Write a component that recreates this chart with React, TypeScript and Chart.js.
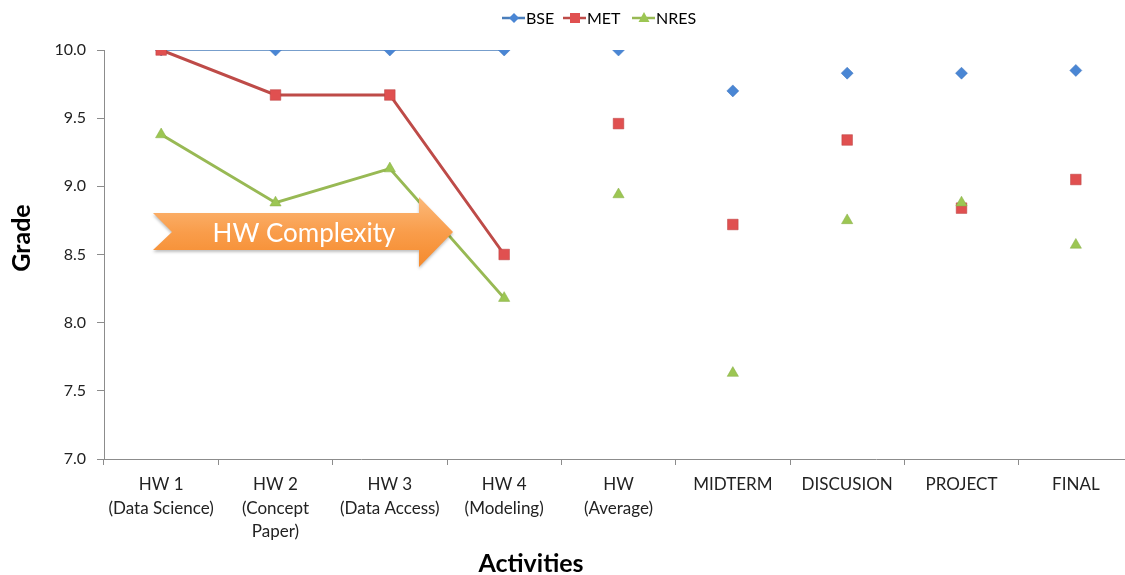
import React, { useEffect, useRef } from "react";
import { Chart, registerables } from "chart.js";

Chart.register(...registerables);

const categories: string[][] = [
  ["HW 1", "(Data Science)"],
  ["HW 2", "(Concept", "Paper)"],
  ["HW 3", "(Data Access)"],
  ["HW 4", "(Modeling)"],
  ["HW", "(Average)"],
  ["MIDTERM"],
  ["DISCUSION"],
  ["PROJECT"],
  ["FINAL"],
];

const bseValues = [10.0, 10.0, 10.0, 10.0, 10.0, 9.7, 9.83, 9.83, 9.85];
const metValues = [10.0, 9.67, 9.67, 8.5, 9.46, 8.72, 9.34, 8.84, 9.05];
const nresValues = [9.38, 8.88, 9.13, 8.18, 8.94, 7.63, 8.75, 8.88, 8.57];

const seriesNames = ["BSE", "MET", "NRES"];
const yTicks = [7.0, 7.5, 8.0, 8.5, 9.0, 9.5, 10.0];
const arrowLabel = "HW Complexity";
const xTitle = "Activities";
const yTitle = "Grade";

const FONT = "Lato, 'Open Sans', sans-serif";

const overlayPlugin = {
  id: "overlay",
  afterDatasetsDraw(chart: any) {
    const ctx = chart.ctx as CanvasRenderingContext2D;
    ctx.save();
    const pts: [number, number][] = [
      [153, 213], [419, 213], [419, 197], [453, 232], [419, 267], [419, 250], [153, 250], [172, 232],
    ];
    ctx.shadowColor = "rgba(0,0,0,0.25)";
    ctx.shadowBlur = 3;
    ctx.shadowOffsetY = 2;
    const g = ctx.createLinearGradient(0, 197, 0, 267);
    g.addColorStop(0, "#fcb97a");
    g.addColorStop(0.5, "#f99d4b");
    g.addColorStop(1, "#f58a2c");
    ctx.fillStyle = g;
    ctx.beginPath();
    pts.forEach(([x, y], i) => (i === 0 ? ctx.moveTo(x, y) : ctx.lineTo(x, y)));
    ctx.closePath();
    ctx.fill();
    ctx.restore();
    ctx.save();
    ctx.fillStyle = "#ffffff";
    let size = 24;
    ctx.font = `${size}px ${FONT}`;
    const w = ctx.measureText(arrowLabel).width;
    size = size * (183 / w);
    ctx.font = `${size}px ${FONT}`;
    ctx.textAlign = "center";
    ctx.textBaseline = "middle";
    ctx.fillText(arrowLabel, 304, 234);
    ctx.restore();
  },
  afterDraw(chart: any) {
    const ctx = chart.ctx as CanvasRenderingContext2D;
    ctx.save();
    ctx.fillStyle = "#000";
    ctx.font = `bold 25px ${FONT}`;
    ctx.textAlign = "center";
    ctx.textBaseline = "middle";
    ctx.fillText(xTitle, 531, 564);
    ctx.save();
    ctx.translate(22, 238);
    ctx.rotate(-Math.PI / 2);
    ctx.fillText(yTitle, 0, 0);
    ctx.restore();
    const starts = [502, 563, 632];
    ctx.font = `16px ${FONT}`;
    ctx.textAlign = "left";
    chart.data.datasets.forEach((ds: any, i: number) => {
      const x0 = starts[i];
      const y = 18;
      ctx.strokeStyle = ds.borderColor;
      ctx.lineWidth = 2.5;
      ctx.beginPath();
      ctx.moveTo(x0, y);
      ctx.lineTo(x0 + 23, y);
      ctx.stroke();
      ctx.fillStyle = ds.pointBackgroundColor;
      const cx = x0 + 12;
      ctx.beginPath();
      if (ds.pointStyle === "rectRot") {
        ctx.moveTo(cx - 5, y); ctx.lineTo(cx, y - 5); ctx.lineTo(cx + 5, y); ctx.lineTo(cx, y + 5);
      } else if (ds.pointStyle === "rect") {
        ctx.rect(cx - 5, y - 5, 10, 10);
      } else {
        ctx.moveTo(cx, y - 6); ctx.lineTo(cx + 5.5, y + 4); ctx.lineTo(cx - 5.5, y + 4);
      }
      ctx.closePath();
      ctx.fill();
      ctx.fillStyle = "#000";
      ctx.fillText(ds.label, x0 + 24, y + 1);
    });
    ctx.restore();
  },
};

export default function App() {
  const ref = useRef<HTMLCanvasElement | null>(null);
  useEffect(() => {
    if (!ref.current) return;
    const segColor = (color: string) => (c: any) => (c.p0DataIndex >= 3 ? "transparent" : color);
    const chart = new Chart(ref.current, {
      type: "line",
      data: {
        labels: categories,
        datasets: [
          {
            label: seriesNames[0],
            data: bseValues,
            borderColor: "#4a7ebb",
            borderWidth: 1.5,
            pointStyle: "rectRot",
            pointRadius: 6,
            pointBackgroundColor: "#4a86d4",
            pointBorderColor: "#3f75bd",
            pointBorderWidth: 0.5,
            segment: { borderColor: segColor("#4a7ebb") },
            order: 3,
          },
          {
            label: seriesNames[1],
            data: metValues,
            borderColor: "#be4b48",
            borderWidth: 3,
            pointStyle: "rect",
            pointRadius: 7.5,
            pointBackgroundColor: "#e05050",
            pointBorderColor: "#b94040",
            pointBorderWidth: 0.5,
            segment: { borderColor: segColor("#be4b48") },
            order: 2,
          },
          {
            label: seriesNames[2],
            data: nresValues,
            borderColor: "#98b954",
            borderWidth: 3,
            pointStyle: "triangle",
            pointRadius: 6.5,
            pointBackgroundColor: "#9cc653",
            pointBorderColor: "#86ad45",
            pointBorderWidth: 0.5,
            segment: { borderColor: segColor("#98b954") },
            order: 1,
          },
        ] as any,
      },
      options: {
        animation: false,
        responsive: false,
        devicePixelRatio: 1,
        layout: { autoPadding: false, padding: { top: 50, left: 0, right: 1, bottom: 0 } },
        plugins: { legend: { display: false }, tooltip: { enabled: false } },
        scales: {
          x: {
            type: "category",
            offset: true,
            grid: { offset: true, drawOnChartArea: false, drawTicks: true, tickLength: 6, color: "#8c8c8c" },
            border: { color: "#8c8c8c", width: 1 },
            ticks: {
              color: "#222",
              font: { family: FONT, size: 17, lineHeight: 1.38 },
              padding: 8,
              maxRotation: 0,
              autoSkip: false,
            },
            afterFit: (s: any) => { s.height = 116; s.paddingLeft = 0; s.paddingRight = 0; },
          },
          y: {
            min: 7,
            max: 10,
            afterBuildTicks: (s: any) => { s.ticks = yTicks.map((v) => ({ value: v })); },
            grid: { drawOnChartArea: false, drawTicks: true, tickLength: 7, color: "#8c8c8c" },
            border: { color: "#8c8c8c", width: 1 },
            ticks: {
              color: "#222",
              font: { family: FONT, size: 16 },
              padding: 11,
              callback: (v: any) => Number(v).toFixed(1),
            },
            afterFit: (s: any) => { s.width = 104; },
          },
        },
      } as any,
      plugins: [overlayPlugin],
    });
    return () => chart.destroy();
  }, []);
  return (
    <div style={{ position: "absolute", left: 0, top: 0, width: 1125, height: 575, overflow: "hidden", background: "#fff" }}>
      <div style={{ width: 1134, height: 575 }}>
        <canvas ref={ref} width={1134} height={575} style={{ display: "block", width: 1134, height: 575 }} />
      </div>
    </div>
  );
}
